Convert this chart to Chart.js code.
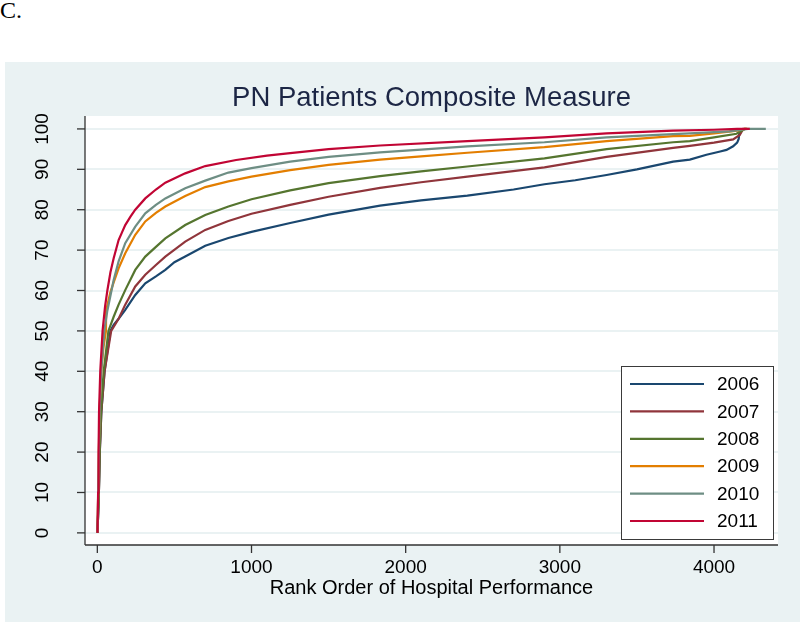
<!DOCTYPE html>
<html><head><meta charset="utf-8">
<script src="https://cdn.jsdelivr.net/npm/chart.js@4"></script>
<style>
html,body{margin:0;padding:0;background:#fff;width:800px;height:622px;overflow:hidden;}
#lbl{position:absolute;left:0;top:-2px;font-family:'Liberation Serif','Times New Roman',serif;font-size:24px;line-height:24px;color:#000;}
#c{position:absolute;left:0;top:62px;}
</style></head><body>
<div id="lbl">C.</div>
<canvas id="c" width="800" height="560"></canvas>
<script>
// ---- data ----
const seriesNames = ['2006','2007','2008','2009','2010','2011'];
const xTicks = [0, 1000, 2000, 3000, 4000];
const yTicks = [0, 10, 20, 30, 40, 50, 60, 70, 80, 90, 100];

const rank2006  = [1,10,16,26,47,85,106,138,181,246,311,380,441,500,570,700,850,1000,1251,1500,1834,2100,2400,2700,2900,3100,3303,3500,3735,3843,3951,4040,4081,4124,4150,4160,4167];
const score2006 = [0,10,20,30,40,50,51.5,53,55.2,58.9,61.8,63.5,65.1,67.0,68.4,71.1,73.0,74.5,76.7,78.8,81.0,82.3,83.5,85.0,86.3,87.3,88.6,90.0,91.9,92.4,93.6,94.4,94.8,95.7,96.6,97.5,100];

const rank2007  = [1,10,16,26,47,90,138,181,246,311,380,441,570,700,850,1000,1251,1500,1834,2100,2400,2900,3303,3735,3843,4000,4124,4167,4189,4205];
const score2007 = [0,10,20,30,40,50,53,56.5,61,63.9,66.3,68.4,72.1,75,77.2,79.0,81.2,83.2,85.4,86.8,88.2,90.5,93.1,95.3,95.8,96.6,97.4,98.5,100,100];

const rank2008  = [1,10,15,24,41,72,106,138,181,246,311,380,441,570,700,850,1000,1251,1500,1834,2100,2400,2900,3303,3735,3843,4000,4146,4200,4215];
const score2008 = [0,10,20,30,40,50,53.5,56.5,60.1,65.1,68.4,70.8,72.9,76.2,78.7,80.8,82.6,84.8,86.6,88.3,89.5,90.7,92.7,95.0,96.7,97.0,97.9,98.8,100,100];

const rank2009  = [1,8,14,25,40,56,57,84,106,138,181,246,311,380,441,570,700,850,1000,1251,1500,1834,2100,2400,2900,3303,3735,3843,4000,4150,4200,4215];
const score2009 = [0,15,30,40,46,50,55,59.5,62,65.5,69.2,73.8,77.1,79.2,80.8,83.4,85.6,87.0,88.2,89.8,91.1,92.4,93.2,94.1,95.5,97.0,98.2,98.3,98.9,99.6,100,100];

const rank2010  = [1,8,15,25,45,65,84,106,138,181,246,311,380,441,570,700,850,1000,1251,1500,1834,2100,2400,2900,3303,3735,3843,4000,4100,4220,4336];
const score2010 = [0,15,30,40,50,55,58.5,62.6,67.2,71.7,75.8,79.1,81.2,82.8,85.3,87.2,89.2,90.3,91.9,93.1,94.2,94.9,95.7,96.7,97.9,98.7,98.9,99.2,99.4,100,100];

const rank2011  = [1,5,8,11,19,34,50,65,85,106,138,160,181,215,246,311,380,441,570,700,900,1100,1251,1500,1834,2400,2900,3303,3735,4000,4150,4232];
const score2011 = [0,10,20,30,40,50,56,60,64.5,68,72.5,74.4,76.2,78.3,80,82.8,85,86.7,89,90.8,92.3,93.4,94.0,95.0,95.9,97.0,97.9,98.9,99.6,99.8,100,100];

const ranks  = [rank2006, rank2007, rank2008, rank2009, rank2010, rank2011];
const scores = [score2006, score2007, score2008, score2009, score2010, score2011];

// ---- styles ----
const seriesColors = ['#1a476f','#90353b','#55752f','#e37e00','#6e8e84','#c10534'];
const FONT = "'Liberation Sans', Arial, Helvetica, sans-serif";
const BG = '#eaf2f3';

const datasets = seriesNames.map((name, i) => ({
  label: name,
  data: ranks[i].map((r, k) => ({x: r, y: scores[i][k]})),
  showLine: true,
  borderColor: seriesColors[i],
  backgroundColor: seriesColors[i],
  borderWidth: 2.2,
  pointRadius: 0,
  tension: 0,
  fill: false,
  order: seriesNames.length - 1 - i
}));

const stataPlugin = {
  id: 'stata',
  beforeDraw(chart) {
    const {ctx, chartArea: a} = chart;
    ctx.save();
    ctx.fillStyle = BG;
    ctx.fillRect(5, 0, 795, chart.height);
    ctx.fillStyle = '#ffffff';
    ctx.fillRect(a.left, a.top, a.right - a.left, a.bottom - a.top);
    ctx.restore();
  },
  afterDraw(chart) {
    const {ctx, chartArea: a} = chart;
    const xs = chart.scales.x, ys = chart.scales.y;
    ctx.save();
    // axes
    ctx.strokeStyle = '#333333';
    ctx.lineWidth = 1.3;
    ctx.beginPath();
    ctx.moveTo(a.left, a.top); ctx.lineTo(a.left, a.bottom);
    ctx.moveTo(a.left, a.bottom); ctx.lineTo(a.right, a.bottom);
    ctx.stroke();
    // y ticks + labels
    ctx.fillStyle = '#000';
    ctx.font = '19px ' + FONT;
    yTicks.forEach(v => {
      const py = ys.getPixelForValue(v);
      ctx.beginPath(); ctx.moveTo(a.left - 8, py); ctx.lineTo(a.left, py); ctx.stroke();
      ctx.save();
      ctx.translate(43, py);
      ctx.rotate(-Math.PI / 2);
      ctx.textAlign = 'center'; ctx.textBaseline = 'middle';
      ctx.fillText(String(v), 0, 0);
      ctx.restore();
    });
    // x ticks + labels
    xTicks.forEach(v => {
      const px = xs.getPixelForValue(v);
      ctx.beginPath(); ctx.moveTo(px, a.bottom); ctx.lineTo(px, a.bottom + 8); ctx.stroke();
      ctx.textAlign = 'center'; ctx.textBaseline = 'middle';
      ctx.fillText(String(v), px, a.bottom + 23);
    });
    // axis title
    ctx.font = '20px ' + FONT;
    ctx.textAlign = 'center'; ctx.textBaseline = 'middle';
    ctx.fillText('Rank Order of Hospital Performance', (a.left + a.right) / 2, a.bottom + 43);
    // chart title
    ctx.fillStyle = '#1c2645';
    ctx.font = '27.5px ' + FONT;
    ctx.fillText('PN Patients Composite Measure', (a.left + a.right) / 2, 36);
    // legend
    const lx = 621, ly = 304, lw = 152, lh = 173;
    ctx.fillStyle = '#fff';
    ctx.fillRect(lx, ly, lw, lh);
    ctx.strokeStyle = '#3a3a3a';
    ctx.lineWidth = 1;
    ctx.strokeRect(lx + 0.5, ly + 0.5, lw, lh);
    ctx.font = '19px ' + FONT;
    ctx.textAlign = 'left'; ctx.textBaseline = 'middle';
    seriesNames.forEach((name, i) => {
      const y = ly + 18 + i * 27.4;
      ctx.strokeStyle = seriesColors[i];
      ctx.lineWidth = 2.2;
      ctx.beginPath(); ctx.moveTo(630, y); ctx.lineTo(704, y); ctx.stroke();
      ctx.fillStyle = '#000';
      ctx.fillText(name, 717, y + 1);
    });
    ctx.restore();
  }
};

new Chart(document.getElementById('c'), {
  type: 'scatter',
  data: { datasets },
  options: {
    responsive: false,
    animation: false,
    devicePixelRatio: 1,
    layout: { padding: { left: 85, right: 22, top: 54, bottom: 77 } },
    plugins: { legend: { display: false }, tooltip: { enabled: false }, title: { display: false } },
    scales: {
      x: {
        type: 'linear', min: -80, max: 4415,
        afterBuildTicks: s => { s.ticks = xTicks.map(v => ({value: v})); },
        ticks: { display: false },
        grid: { display: false, drawTicks: false },
        border: { display: false }
      },
      y: {
        type: 'linear', min: -3, max: 103.2,
        afterBuildTicks: s => { s.ticks = yTicks.map(v => ({value: v})); },
        ticks: { display: false },
        grid: { display: true, color: BG, lineWidth: 2, drawTicks: false },
        border: { display: false }
      }
    }
  },
  plugins: [stataPlugin]
});
</script></body></html>
